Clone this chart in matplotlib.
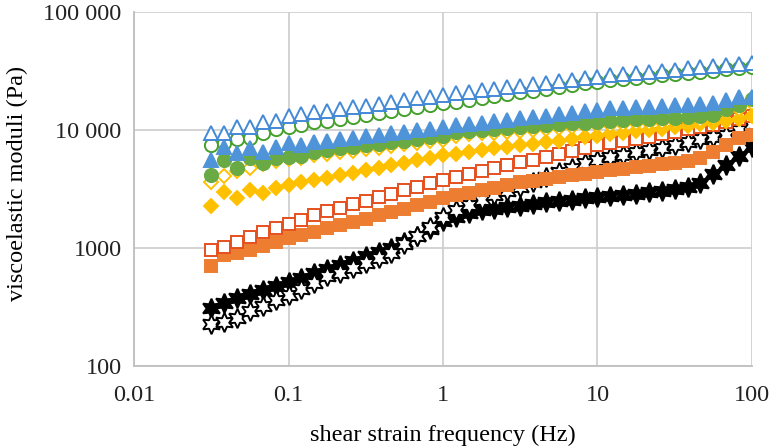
import matplotlib
matplotlib.use("Agg")
import matplotlib.pyplot as plt
from matplotlib.ticker import FixedLocator, NullLocator

plt.rcParams['font.family'] = ['Liberation Serif', 'DejaVu Serif']

# shear frequency (Hz), 12 points per decade
freq = [0.0316, 0.0383, 0.0464, 0.0562, 0.0681, 0.0825, 0.1, 0.121, 0.147, 0.178,
        0.215, 0.261, 0.316, 0.383, 0.464, 0.562, 0.681, 0.825, 1.0, 1.21,
        1.47, 1.78, 2.15, 2.61, 3.16, 3.83, 4.64, 5.62, 6.81, 8.25,
        10.0, 12.1, 14.7, 17.8, 21.5, 26.1, 31.6, 38.3, 46.4, 56.2,
        68.1, 82.5, 100.0]

# moduli (Pa)
black_filled = [309, 339, 376, 407, 442, 479, 519, 562, 610,
                661, 716, 776, 851, 923, 1000, 1122, 1259, 1462,
                1700, 1840, 1970, 2090, 2160, 2240, 2290, 2370, 2460, 2510, 2570, 2630, 2690,
                2750, 2820, 2880, 2990, 3060, 3160, 3310, 3550, 4270, 5010, 6030, 7240]
black_open = [229, 237, 257, 292, 324, 359, 403, 447, 507,
              575, 617, 676, 741, 822, 912, 1072, 1259, 1514,
              1840, 2090, 2320, 2550, 2790, 3020, 3310, 3630, 4030, 4370, 4730, 5250, 5620,
              5890, 6170, 6530, 6760, 7080, 7410, 7850, 8320, 8710, 9120, 10000, 11220]
orange_filled = [708, 873, 902, 962, 1040, 1132, 1208, 1288, 1374,
                 1466, 1563, 1667, 1778, 1897, 2023, 2158, 2301, 2460,
                 2630, 2790, 2950, 3090, 3240, 3390, 3590, 3720, 3850, 3980, 4120, 4270, 4420,
                 4570, 4680, 4840, 4960, 5110, 5250, 5500, 5750, 6460, 7410, 8510, 9120]
orange_open = [962, 1026, 1132, 1247, 1374, 1486, 1596, 1726, 1905,
               2040, 2190, 2340, 2510, 2690, 2880, 3090, 3310, 3530,
               3770, 3980, 4220, 4470, 4730, 5010, 5310, 5620, 5960, 6310, 6680, 7080, 7410,
               7760, 8130, 8410, 8710, 9230, 9660, 10120, 10590, 11090, 11610, 12300, 13030]
yellow_filled = [2270, 3000, 2640, 3100, 2940, 3210, 3420, 3650, 3770,
                 3950, 4150, 4360, 4570, 4790, 5010, 5270, 5530, 5810,
                 6100, 6310, 6530, 6760, 7000, 7240, 7450, 7670, 7890, 8130, 8410, 8650, 8910,
                 9160, 9440, 9730, 10000, 10280, 10590, 10890, 11220, 11560, 11970, 12450, 13030]
yellow_open = [3630, 4070, 4450, 4730, 5100, 5500, 5650, 5750, 6100,
               6290, 6480, 6690, 6890, 7100, 7340, 7560, 7790, 8040,
               8290, 8980, 9190, 9340, 9520, 9690, 9850, 10010, 10200, 10390, 10560, 10730, 10930,
               11050, 11230, 11440, 11570, 11710, 11840, 12040, 12260, 12550, 14080, 15080, 16920]
green_filled = [4160, 5570, 4730, 5750, 5220, 5750, 5940, 6030, 6550,
                6760, 6970, 7190, 7410, 7640, 7890, 8130, 8380, 8650,
                8910, 9660, 9890, 10050, 10230, 10420, 10590, 10770, 10970, 11170, 11350, 11540, 11750,
                11890, 12080, 12300, 12450, 12590, 12740, 12940, 13180, 13490, 15140, 16220, 18200]
green_open = [7460, 7760, 8340, 8610, 9350, 10100, 10700, 11100, 11600,
              12000, 12400, 12900, 13400, 13900, 14500, 15000, 15600, 16200,
              16800, 17400, 18100, 18700, 19400, 20100, 20800, 21500, 22300, 23100, 23900, 24800, 25600,
              26300, 26900, 27600, 28300, 29000, 29700, 30400, 31200, 31900, 32700, 33500, 34400]
blue_filled = [5570, 7210, 6340, 7000, 6550, 7210, 7710, 7460, 7960,
               8130, 8410, 8610, 8910, 9120, 9440, 9660, 10000, 10280,
               10700, 10970, 11270, 11560, 11890, 12220, 12530, 12880, 13240, 13580, 13960, 14360, 14760,
               15300, 15300, 15800, 15800, 16000, 16300, 16300, 16600, 16800, 17900, 18900, 19100]
blue_open = [9400, 9500, 10600, 10700, 11700, 12000, 13150, 13600, 14100,
             14600, 15100, 15600, 16100, 16700, 17300, 17900, 18500, 19100,
             19800, 20400, 21000, 21700, 22300, 23000, 23700, 24400, 25100, 25900, 26700, 27500, 28300,
             29000, 29600, 30300, 31000, 31700, 32400, 33200, 34000, 34700, 35500, 36300, 37200]

y_ticks = [100, 1000, 10000, 100000]
y_ticklabels = ['100', '1000', '10 000', '100 000']
x_ticks = [0.01, 0.1, 1, 10, 100]
x_ticklabels = ['0.01', '0.1', '1', '10', '100']

star = (6, 1, 0)
# (values, marker, size, face, edge) in drawing order
series = [
    (black_filled, star, 14, 'black', 'black'),
    (black_open, star, 14, 'white', 'black'),
    (orange_filled, 's', 8.8, '#ED7D31', '#ED7D31'),
    (orange_open, 's', 8.8, 'white', '#E5501E'),
    (yellow_filled, 'D', 7.2, '#FFC000', '#FFC000'),
    (yellow_open, 'D', 7.2, 'white', '#FFC000'),
    (green_filled, 'o', 9.5, '#6AAA45', '#6AAA45'),
    (green_open, 'o', 9.5, 'white', '#45A02C'),
    (blue_filled, '^', 10.5, '#4F94D9', '#4F94D9'),
    (blue_open, '^', 10.5, 'white', '#4389D6'),
]

fig = plt.figure(figsize=(7.73, 4.47), dpi=100)
ax = fig.add_axes([0.1734, 0.1812, 0.7994, 0.792])

for vals, mk, ms, fc, ec in series:
    ax.plot(freq, vals, linestyle='none', marker=mk, markersize=ms,
            markerfacecolor=fc, markeredgecolor=ec, markeredgewidth=1.4)

ax.set_xscale('log')
ax.set_yscale('log')
ax.set_xlim(0.01, 100)
ax.set_ylim(100, 100000)

ax.xaxis.set_major_locator(FixedLocator(x_ticks))
ax.xaxis.set_minor_locator(NullLocator())
ax.set_xticklabels(x_ticklabels)
ax.yaxis.set_major_locator(FixedLocator(y_ticks))
ax.yaxis.set_minor_locator(NullLocator())
ax.set_yticklabels(y_ticklabels)

ax.grid(True, color='#D0D0D0', linewidth=1.3)
ax.set_axisbelow(True)
for side in ['top', 'right']:
    ax.spines[side].set_visible(False)
for side in ['left', 'bottom']:
    ax.spines[side].set_color('#BFBFBF')
    ax.spines[side].set_linewidth(1.3)

ax.tick_params(axis='both', length=0, labelsize=17.5, colors='#222222')
ax.tick_params(axis='x', pad=14)
ax.tick_params(axis='y', pad=9)

ax.set_xlabel('shear strain frequency (Hz)', fontsize=17.5, labelpad=13)
ax.set_ylabel('viscoelastic moduli (Pa)', fontsize=17.5)
ax.yaxis.set_label_coords(-0.172, 0.517)

fig.savefig('out.png', dpi=100)
